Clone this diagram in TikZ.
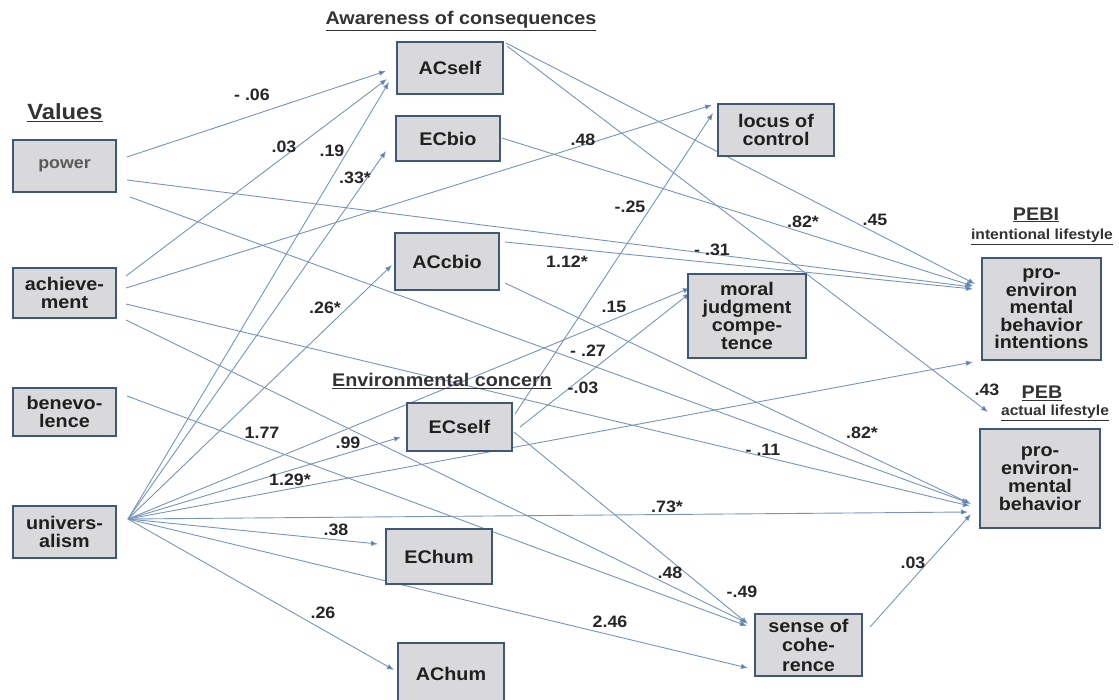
\documentclass[tikz,border=0pt]{standalone}
\usepackage{fontspec}
\setsansfont{Liberation Sans}[FakeStretch=1.08]
\usetikzlibrary{arrows.meta}
\definecolor{boxfill}{HTML}{D9D9DB}
\definecolor{boxline}{HTML}{3F5878}
\definecolor{conn}{HTML}{7894BC}
\definecolor{tipc}{HTML}{4A70AC}
\definecolor{headc}{HTML}{333333}
\pgfdeclarelayer{bg}
\pgfsetlayers{bg,main}
\begin{document}
\begin{tikzpicture}[x=1pt,y=-1pt,
  vbox/.style={draw=boxline, line width=2.4pt, fill=boxfill, inner sep=0pt, align=center,
    font=\sffamily\bfseries\fontsize{18.3}{18}\selectfont, text=black!88},
  link/.style={draw=conn, line width=0.9pt, -{Latex[length=7pt,width=5.5pt,fill=tipc]}},
  lab/.style={font=\sffamily\bfseries\fontsize{16.5}{16.5}\selectfont, inner sep=0pt, text=black!85},
  head/.style={font=\sffamily\bfseries\fontsize{18.3}{18.3}\selectfont, inner sep=0pt, text=headc},
  subhead/.style={font=\sffamily\bfseries\fontsize{14.5}{14.5}\selectfont, inner sep=0pt, text=headc}
]
\useasboundingbox (0,0) rectangle (1119,699);
\begin{pgfonlayer}{bg}
\fill[white] (0,0) rectangle (1119,699);
\end{pgfonlayer}

% headings
\node[head, font=\sffamily\bfseries\fontsize{22}{22}\selectfont] (hval) at (65,113) {\underline{Values}};
\node[head] (haw) at (461,21) {\underline{Awareness of consequences}};
\node[head] (henv) at (442,381) {\underline{Environmental concern}};
\node[head] (hpebi) at (1036,215) {\underline{PEBI}};
\node[subhead] (hint) at (1042,237) {\underline{intentional lifestyle}};
\node[head] (hpeb) at (1042,393) {\underline{PEB}};
\node[subhead] (hact) at (1055,413) {\underline{actual lifestyle}};

% boxes
\node[vbox, minimum width=103, minimum height=52, text=black!65, font=\sffamily\bfseries\fontsize{16.5}{17}\selectfont] (power) at (64.5,166) {power};
\node[vbox, minimum width=103, minimum height=50] (achv) at (64.5,293) {achieve-\\ment};
\node[vbox, minimum width=103, minimum height=48] (bene) at (64.5,412) {benevo-\\lence};
\node[vbox, minimum width=103, minimum height=52] (univ) at (64.5,532) {univers-\\alism};
\node[vbox, minimum width=106, minimum height=52] (acself) at (450,68) {ACself};
\node[vbox, minimum width=104, minimum height=45] (ecbio) at (448,138.5) {ECbio};
\node[vbox, minimum width=116, minimum height=52] (locus) at (776,130) {locus of\\control};
\node[vbox, minimum width=104, minimum height=57] (accbio) at (447,261.5) {ACcbio};
\node[vbox, minimum width=118, minimum height=84] (moral) at (747,316) {moral\\judgment\\compe-\\tence};
\node[vbox, minimum width=119, minimum height=102, font=\sffamily\bfseries\fontsize{18.3}{17.5}\selectfont] (pei) at (1041.5,309) {pro-\\environ\\mental\\behavior\\intentions};
\node[vbox, minimum width=120, minimum height=99] (peb) at (1040,478.5) {pro-\\environ-\\mental\\behavior};
\node[vbox, minimum width=105, minimum height=48] (ecself) at (459.5,427) {ECself};
\node[vbox, minimum width=106, minimum height=55] (echum) at (439,556.5) {EChum};
\node[vbox, minimum width=106, minimum height=61] (achum) at (451,673.5) {AChum};
\node[vbox, minimum width=107, minimum height=62, font=\sffamily\bfseries\fontsize{18.3}{19.5}\selectfont] (soc) at (808.5,645) {sense of\\cohe-\\rence};
\coordinate (pebtip) at (988,412);

% connectors
\begin{pgfonlayer}{bg}
% power
\draw[link] ([shift={(62.5,-9)}]power.center) -- ([shift={(-64,3)}]acself.center);
\draw[link] ([shift={(62.5,14)}]power.center) -- ([shift={(-69.5,-22)}]pei.center);
\draw[link] ([shift={(65.5,31)}]power.center) -- ([shift={(-71,24.5)}]peb.center);
% achievement
\draw[link] ([shift={(61.5,-17)}]achv.center) -- ([shift={(-63,11)}]acself.center);
\draw[link] ([shift={(61.5,-5)}]achv.center) -- ([shift={(-64,-25)}]locus.center);
\draw[link] ([shift={(61.5,11)}]achv.center) -- ([shift={(-70,27.5)}]peb.center);
\draw[link] ([shift={(61.5,27)}]achv.center) -- ([shift={(-61.5,-22)}]soc.center);
% benevolence
\draw[link] ([shift={(62.5,-16)}]bene.center) -- ([shift={(-61.5,-19)}]soc.center);
% universalism
\draw[link] ([shift={(63.5,-13)}]univ.center) -- ([shift={(-61,14)}]acself.center);
\draw[link] ([shift={(63.5,-13)}]univ.center) -- ([shift={(-62,12.5)}]ecbio.center);
\draw[link] ([shift={(63.5,-13)}]univ.center) -- ([shift={(-55,3.5)}]accbio.center);
\draw[link] ([shift={(63.5,-13)}]univ.center) -- ([shift={(-58.5,10)}]ecself.center);
\draw[link] ([shift={(63.5,-13)}]univ.center) -- ([shift={(-57,-28)}]moral.center);
\draw[link] ([shift={(63.5,-13)}]univ.center) -- ([shift={(-68.5,53)}]pei.center);
\draw[link] ([shift={(63.5,-13)}]univ.center) -- ([shift={(-72,33.5)}]peb.center);
\draw[link] ([shift={(63.5,-13)}]univ.center) -- ([shift={(-61,-12.5)}]echum.center);
\draw[link] ([shift={(63.5,-13)}]univ.center) -- ([shift={(-60.5,23)}]soc.center);
\draw[link] ([shift={(63.5,-13)}]univ.center) -- ([shift={(-57,-3.5)}]achum.center);
% ACself
\draw[link] ([shift={(56,-25)}]acself.center) -- ([shift={(-66.5,-25)}]pei.center);
\draw[link] ([shift={(57,-22)}]acself.center) -- (pebtip);
% ECbio
\draw[link] ([shift={(54,-0.5)}]ecbio.center) -- ([shift={(-68.5,-23)}]pei.center);
% ACcbio
\draw[link] ([shift={(58,-19.5)}]accbio.center) -- ([shift={(-68.5,-20)}]pei.center);
\draw[link] ([shift={(58,21.5)}]accbio.center) -- ([shift={(-69,25.5)}]peb.center);
% ECself
\draw[link] ([shift={(55.5,-13)}]ecself.center) -- ([shift={(-63,-17)}]locus.center);
\draw[link] ([shift={(60.5,0)}]ecself.center) -- ([shift={(-57,-23)}]moral.center);
\draw[link] ([shift={(54.5,5)}]ecself.center) -- ([shift={(-60.5,-21)}]soc.center);
% sense of coherence
\draw[link] ([shift={(61.5,-18)}]soc.center) -- ([shift={(-69,35.5)}]peb.center);
\end{pgfonlayer}

% coefficient labels
\node[lab] (l01) at (252,95) {- .06};
\node[lab] (l02) at (284,147) {.03};
\node[lab] (l03) at (332,151) {.19};
\node[lab] (l04) at (355,178) {.33*};
\node[lab] (l05) at (583,140) {.48};
\node[lab] (l06) at (630,207) {-.25};
\node[lab] (l07) at (803,222) {.82*};
\node[lab] (l08) at (875,220) {.45};
\node[lab] (l09) at (712,250) {- .31};
\node[lab] (l10) at (567,262) {1.12*};
\node[lab] (l11) at (325,308) {.26*};
\node[lab] (l12) at (614,307) {.15};
\node[lab] (l13) at (588,351) {- .27};
\node[lab] (l14) at (583,388) {-.03};
\node[lab] (l15) at (262,433) {1.77};
\node[lab] (l16) at (348,443) {.99};
\node[lab] (l17) at (290,480) {1.29*};
\node[lab] (l18) at (763,450) {- .11};
\node[lab] (l19) at (862,433) {.82*};
\node[lab] (l20) at (987,390) {.43};
\node[lab] (l21) at (667,507) {.73*};
\node[lab] (l22) at (336,530) {.38};
\node[lab] (l23) at (670,573) {.48};
\node[lab] (l24) at (742,592) {-.49};
\node[lab] (l25) at (610,622) {2.46};
\node[lab] (l26) at (323,613) {.26};
\node[lab] (l27) at (913,563) {.03};
\end{tikzpicture}
\end{document}
